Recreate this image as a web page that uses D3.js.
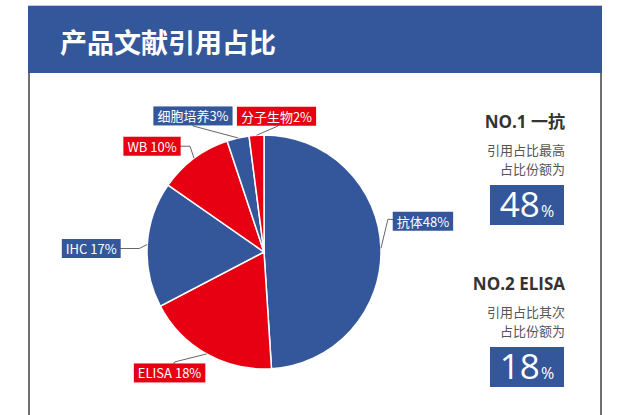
<!DOCTYPE html>
<html>
<head>
<meta charset="utf-8">
<script src="https://cdn.jsdelivr.net/npm/d3@7"></script>
<style>
  html, body { margin: 0; padding: 0; background: #fff; }
  svg { display: block; font-family: "Noto Sans CJK SC", "Noto Sans", sans-serif; }
</style>
</head>
<body>
<div id="chart"></div>
<script>
// data
var categories = ['抗体', 'ELISA', 'IHC', 'WB', '细胞培养', '分子生物'];
var shares = [48, 18, 17, 10, 3, 2];
var rankTitles = ['NO.1 一抗', 'NO.2 ELISA'];
var rankDesc = ['引用占比最高', '引用占比其次'];
var rankValues = [48, 18];

var W = 619, H = 415;
var blue = '#34569a', red = '#e60012';

var svg = d3.select('#chart').append('svg')
    .attr('width', W)
    .attr('height', H);

// frame + header
svg.append('line').attr('x1', 29).attr('x2', 29).attr('y1', 5).attr('y2', H)
    .attr('stroke', '#707070').attr('stroke-width', 2);
svg.append('line').attr('x1', 601).attr('x2', 601).attr('y1', 5).attr('y2', H)
    .attr('stroke', '#707070').attr('stroke-width', 2);
svg.append('rect').attr('x', 28).attr('y', 5).attr('width', 574).attr('height', 68)
    .attr('fill', blue);
svg.append('line').attr('x1', 28).attr('x2', 602).attr('y1', 5.5).attr('y2', 5.5)
    .attr('stroke', '#c8c8c8').attr('stroke-width', 1);
svg.append('text')
    .attr('x', 60).attr('y', 41)
    .attr('dominant-baseline', 'central')
    .attr('fill', '#fff')
    .attr('font-size', '27px')
    .attr('font-weight', 'bold')
    .text('产品文献引用占比');

// pie
var cx = 264, cy = 252, R = 117;
var pie = d3.pie().sort(null).value(function(d) { return d; });
var arcs = pie(shares);
var arc = d3.arc().innerRadius(0).outerRadius(R);

var g = svg.append('g').attr('transform', 'translate(' + cx + ',' + cy + ')');
g.selectAll('path.slice')
    .data(arcs)
    .enter()
    .append('path')
    .attr('class', 'slice')
    .attr('d', arc)
    .attr('fill', function(d, i) { return i % 2 ? red : blue; })
    .attr('stroke', '#fff')
    .attr('stroke-width', 1.5);

// label layout: box centre and elbow, relative to the point on the rim
var labelLayout = [
    {box: [42, -27], elbow: [7, -29]},
    {box: [-37, 19], elbow: [-32, 8]},
    {box: [-56, 4], elbow: [-8, 4]},
    {box: [-42, -12], elbow: [-4, -12]},
    {box: [-45, -22], elbow: [-45, -12]},
    {box: [20, -19], elbow: [21, -9]}
];

function rim(d) {
    var a = (d.startAngle + d.endAngle) / 2;
    return [R * Math.sin(a), -R * Math.cos(a)];
}

var lbl = g.selectAll('g.lbl')
    .data(arcs)
    .enter()
    .append('g')
    .attr('class', 'lbl');

lbl.append('polyline')
    .attr('points', function(d, i) {
        var p = rim(d), L = labelLayout[i];
        return [p, [p[0] + L.elbow[0], p[1] + L.elbow[1]], [p[0] + L.box[0], p[1] + L.box[1]]]
            .map(function(q) { return q.join(','); }).join(' ');
    })
    .attr('fill', 'none')
    .attr('stroke', '#666')
    .attr('stroke-width', 1);

lbl.each(function(d, i) {
    var p = rim(d), L = labelLayout[i];
    var bx = p[0] + L.box[0], by = p[1] + L.box[1];
    var name = categories[i];
    var txt = name + (/[A-Za-z]$/.test(name) ? ' ' : '') + shares[i] + '%';
    var el = d3.select(this);
    var rect = el.append('rect').attr('fill', i % 2 ? red : blue);
    var t = el.append('text')
        .attr('x', bx).attr('y', by)
        .attr('text-anchor', 'middle')
        .attr('dominant-baseline', 'central')
        .attr('fill', '#fff')
        .attr('font-size', '13px')
        .text(txt);
    var w = t.node().getComputedTextLength() + 8, h = 19;
    rect.attr('x', bx - w / 2).attr('y', by - h / 2).attr('width', w).attr('height', h);
});

// right-hand highlights
var rx = 565;
var blockTop = [121, 283];
rankTitles.forEach(function(title, i) {
    var y0 = blockTop[i];
    svg.append('text')
        .attr('x', rx).attr('y', y0)
        .attr('text-anchor', 'end')
        .attr('dominant-baseline', 'central')
        .attr('fill', '#333')
        .attr('font-size', '17px')
        .attr('font-weight', 'bold')
        .attr('font-family', '"Open Sans", "Noto Sans CJK SC", sans-serif')
        .text(title);
    svg.append('text')
        .attr('x', rx).attr('y', y0 + 28)
        .attr('text-anchor', 'end')
        .attr('dominant-baseline', 'central')
        .attr('fill', '#555')
        .attr('font-size', '13px')
        .text(rankDesc[i]);
    svg.append('text')
        .attr('x', rx).attr('y', y0 + 47)
        .attr('text-anchor', 'end')
        .attr('dominant-baseline', 'central')
        .attr('fill', '#555')
        .attr('font-size', '13px')
        .text('占比份额为');
    svg.append('rect')
        .attr('x', 490).attr('y', y0 + 64)
        .attr('width', 74).attr('height', 40)
        .attr('fill', blue);
    var vt = svg.append('text')
        .attr('x', 527).attr('y', y0 + 96)
        .attr('text-anchor', 'middle')
        .attr('fill', '#fff')
        .attr('font-family', '"Open Sans", "Noto Sans", sans-serif');
    vt.append('tspan').attr('font-size', '35px').text(rankValues[i]);
    vt.append('tspan').attr('font-size', '16px').attr('dx', 1).text('%');
});
</script>
</body>
</html>
